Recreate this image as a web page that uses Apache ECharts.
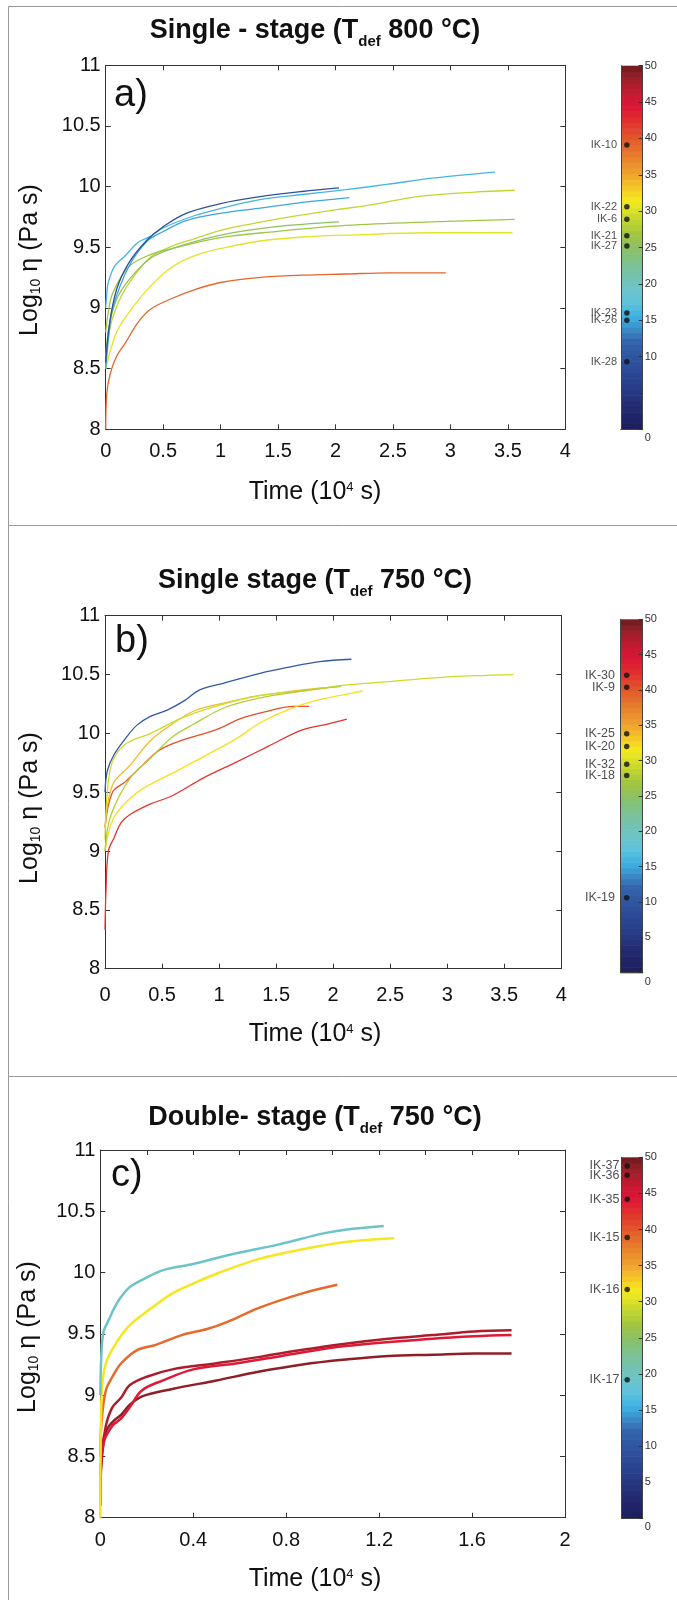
<!DOCTYPE html>
<html><head><meta charset="utf-8">
<script src="https://cdn.jsdelivr.net/npm/echarts@6/dist/echarts.min.js"></script>
<style>html,body{margin:0;padding:0;background:#fff}#c{width:677px;height:1600px}</style>
</head><body><div id="c"></div>
<script>
const FONT = '"Liberation Sans", Arial, Helvetica, sans-serif';

// ---------- Panel a: Single - stage (800 °C) ----------
const aNames = ['IK-10', 'IK-22', 'IK-6', 'IK-21', 'IK-27', 'IK-23', 'IK-26', 'IK-28'];
const aColorVals = [39.1, 30.6, 28.9, 26.6, 25.2, 16.0, 15.0, 9.3];
const aIK10 = [[0,8.0],[0.01,8.3],[0.04,8.46],[0.094,8.6],[0.17,8.71],[0.28,8.88],[0.39,8.99],[0.58,9.08],[0.77,9.15],[1.0,9.21],[1.33,9.25],[1.71,9.27],[2.09,9.28],[2.46,9.29],[2.96,9.29]];
const aIK22 = [[0,8.5],[0.094,8.8],[0.2,8.96],[0.39,9.18],[0.58,9.34],[0.77,9.43],[1.0,9.49],[1.33,9.55],[1.71,9.585],[2.09,9.6],[2.84,9.62],[3.54,9.62]];
const aIK6 = [[0,8.5],[0.03,8.8],[0.09,9.0],[0.2,9.2],[0.39,9.42],[0.58,9.51],[0.77,9.57],[1.0,9.64],[1.48,9.73],[2.01,9.81],[2.31,9.85],[2.73,9.92],[3.21,9.955],[3.56,9.97]];
const aIK21 = [[0,8.8],[0.02,8.95],[0.06,9.12],[0.2,9.34],[0.39,9.44],[0.58,9.49],[1.0,9.58],[1.48,9.63],[2.09,9.68],[2.84,9.71],[3.56,9.73]];
const aIK27 = [[0,8.6],[0.03,8.85],[0.094,9.07],[0.2,9.23],[0.39,9.41],[0.58,9.49],[1.0,9.6],[1.48,9.67],[2.03,9.71]];
const aIK23 = [[0,9.0],[0.01,9.12],[0.02,9.2],[0.075,9.34],[0.17,9.43],[0.28,9.54],[0.39,9.59],[0.5,9.66],[0.77,9.76],[1.0,9.82],[1.33,9.89],[1.71,9.935],[2.09,9.975],[2.46,10.02],[2.84,10.07],[3.39,10.12]];
const aIK26 = [[0,8.5],[0.03,8.8],[0.06,9.0],[0.2,9.34],[0.36,9.55],[0.5,9.63],[0.7,9.72],[1.0,9.78],[1.33,9.82],[1.71,9.87],[2.12,9.91]];
const aIK28 = [[0,8.55],[0.03,8.85],[0.094,9.15],[0.2,9.37],[0.36,9.56],[0.5,9.67],[0.7,9.78],[1.0,9.86],[1.33,9.915],[1.71,9.96],[2.03,9.99]];
const aSeries = [aIK10, aIK22, aIK6, aIK21, aIK27, aIK23, aIK26, aIK28];

// ---------- Panel b: Single stage (750 °C) ----------
const bNames = ['IK-30', 'IK-9', 'IK-25', 'IK-20', 'IK-32', 'IK-18', 'IK-19'];
const bColorVals = [42.1, 40.4, 33.8, 32.0, 29.5, 27.9, 10.6];
const bIK30 = [[0,8.33],[0.01,8.7],[0.03,9.0],[0.083,9.12],[0.14,9.24],[0.22,9.31],[0.4,9.4],[0.59,9.47],[0.86,9.62],[1.16,9.76],[1.43,9.89],[1.73,10.03],[1.96,10.08],[2.12,10.12]];
const bIK9 = [[0,9.2],[0.065,9.5],[0.18,9.59],[0.33,9.73],[0.48,9.86],[0.67,9.94],[0.97,10.03],[1.2,10.13],[1.43,10.19],[1.65,10.23],[1.79,10.23]];
const bIK25 = [[0,9.2],[0.065,9.56],[0.22,9.73],[0.4,9.94],[0.59,10.08],[0.78,10.19],[1.05,10.26],[1.35,10.32],[1.73,10.37],[2.07,10.4]];
const bIK20 = [[0,9.0],[0.065,9.26],[0.18,9.41],[0.33,9.53],[0.59,9.66],[0.86,9.8],[1.16,9.96],[1.36,10.09],[1.6,10.2],[1.85,10.28],[2.05,10.32],[2.26,10.36]];
const bIK32 = [[0,9.1],[0.02,9.5],[0.065,9.76],[0.18,9.91],[0.4,10.0],[0.67,10.13],[0.97,10.23],[1.35,10.32],[1.73,10.36],[2.1,10.41],[2.49,10.44],[2.86,10.47],[3.24,10.49],[3.58,10.5]];
const bIK18 = [[0,9.0],[0.05,9.3],[0.22,9.62],[0.4,9.79],[0.59,9.97],[0.78,10.08],[1.05,10.22],[1.35,10.3],[1.73,10.36],[2.07,10.4]];
const bIK19 = [[0,9.5],[0.02,9.68],[0.08,9.82],[0.19,9.97],[0.28,10.07],[0.39,10.14],[0.55,10.2],[0.7,10.28],[0.83,10.37],[1.05,10.43],[1.36,10.51],[1.6,10.56],[1.88,10.61],[2.16,10.63]];
const bSeries = [bIK30, bIK9, bIK25, bIK20, bIK32, bIK18, bIK19];

// ---------- Panel c: Double- stage (750 °C) ----------
const cNames = ['IK-37', 'IK-36', 'IK-35', 'IK-15', 'IK-16', 'IK-17'];
const cColorVals = [48.8, 47.5, 44.2, 38.9, 31.7, 19.2];
const cIK37 = [[0,8.1],[0.005,8.45],[0.024,8.7],[0.052,8.78],[0.09,8.84],[0.126,8.92],[0.18,8.99],[0.31,9.05],[0.5,9.12],[0.68,9.19],[0.87,9.25],[1.055,9.29],[1.24,9.32],[1.43,9.33],[1.61,9.34],[1.77,9.34]];
const cIK36 = [[0,8.1],[0.005,8.5],[0.024,8.75],[0.052,8.9],[0.09,8.98],[0.126,9.08],[0.2,9.15],[0.31,9.21],[0.5,9.26],[0.68,9.31],[0.87,9.37],[1.055,9.42],[1.24,9.46],[1.43,9.49],[1.61,9.52],[1.77,9.53]];
const cIK35 = [[0,8.3],[0.014,8.61],[0.052,8.75],[0.09,8.81],[0.126,8.9],[0.18,9.04],[0.27,9.12],[0.4,9.21],[0.59,9.26],[0.78,9.32],[1.055,9.4],[1.43,9.46],[1.61,9.48],[1.77,9.49]];
const cIK15 = [[0,8.5],[0.005,8.78],[0.024,9.04],[0.052,9.15],[0.09,9.26],[0.16,9.37],[0.24,9.41],[0.35,9.49],[0.46,9.54],[0.55,9.6],[0.68,9.71],[0.87,9.83],[1.02,9.9]];
const cIK16 = [[0,8.0],[0.005,8.98],[0.024,9.26],[0.07,9.43],[0.126,9.57],[0.22,9.71],[0.31,9.83],[0.4,9.91],[0.5,9.99],[0.68,10.11],[0.87,10.19],[1.055,10.25],[1.265,10.28]];
const cIK17 = [[0,9.0],[0.005,9.35],[0.014,9.52],[0.033,9.6],[0.06,9.71],[0.089,9.8],[0.126,9.88],[0.18,9.94],[0.27,10.02],[0.4,10.07],[0.59,10.16],[0.77,10.23],[0.96,10.32],[1.055,10.35],[1.22,10.38]];
const cSeries = [cIK37, cIK36, cIK35, cIK15, cIK16, cIK17];

// tick labels
const yTicks = ['8', '8.5', '9', '9.5', '10', '10.5', '11'];
const abXTicks = ['0', '0.5', '1', '1.5', '2', '2.5', '3', '3.5', '4'];
const cXTicks = ['0', '0.4', '0.8', '1.2', '1.6', '2'];
const cbTicks = ['0','5','10','15','20','25','30','35','40','45','50'];

// colour map (colour-bar scale 0..50)
const cmapStops = [[0,'#1d1d5a'],[3,'#232a70'],[6,'#283e8a'],[9,'#2d4f9c'],[12,'#3463aa'],[14,'#3b8fcc'],[15.5,'#3eb2e3'],[17.5,'#5ec3dc'],[19.5,'#6ec4c6'],[22,'#77c2a2'],[24.5,'#88c06d'],[27,'#a3c63f'],[29.5,'#cddc2b'],[31.5,'#f5ea1e'],[33,'#f5cc25'],[35,'#eea52f'],[37.5,'#e8802c'],[40,'#e2582a'],[42.5,'#e02f2e'],[44.5,'#dc1537'],[46.5,'#bf1a30'],[48.5,'#962028'],[50,'#6c1b1e']];
function hex2rgb(h){return [parseInt(h.slice(1,3),16),parseInt(h.slice(3,5),16),parseInt(h.slice(5,7),16)];}
function cmap(v){
  if (v <= cmapStops[0][0]) return cmapStops[0][1];
  for (let i = 1; i < cmapStops.length; i++) {
    if (v <= cmapStops[i][0]) {
      const [v0,c0] = cmapStops[i-1], [v1,c1] = cmapStops[i];
      const f = (v - v0) / (v1 - v0);
      const a = hex2rgb(c0), b = hex2rgb(c1);
      return 'rgb(' + a.map((x,k)=>Math.round(x + (b[k]-x)*f)).join(',') + ')';
    }
  }
  return cmapStops[cmapStops.length-1][1];
}
const cbBands = Array.from({length: 64}, (_, i) => [0, i*50/64, (i+1)*50/64]);

const panels = [
  { letter:'a)', names:aNames, cvals:aColorVals, series:aSeries, xTicks:abXTicks,
    title:'{m|Single - stage (T}{s|def}{m| 800 °C)}', titleY:31,
    grid:{left:105.7, top:65.3, width:459.6, height:364},
    cb:{left:621, top:65.7, width:21.7, height:363.6},
    xMax:4, xInt:0.5, xTopInt:0.5, xLabelMargin:12, lw:1.3,
    letterPos:[114, 96], yNamePos:[30, 260], xNamePos:[315, 492],
    ikFont:11, ikDist:7, hide5:true },
  { letter:'b)', names:bNames, cvals:bColorVals, series:bSeries, xTicks:abXTicks,
    title:'{m|Single stage (T}{s|def}{m| 750 °C)}', titleY:581,
    grid:{left:105, top:615.7, width:456.3, height:353},
    cb:{left:620.7, top:619.3, width:22, height:353.4},
    xMax:4, xInt:0.5, xTopInt:0.5, xLabelMargin:17, lw:1.3,
    letterPos:[115, 642], yNamePos:[30, 808], xNamePos:[315, 1034],
    ikFont:12.5, ikDist:9, hide5:false },
  { letter:'c)', names:cNames, cvals:cColorVals, series:cSeries, xTicks:cXTicks,
    title:'{m|Double- stage (T}{s|def}{m| 750 °C)}', titleY:1118,
    grid:{left:100.3, top:1150, width:464.7, height:367.7},
    cb:{left:621.7, top:1157.3, width:21, height:361},
    xMax:2, xInt:0.4, xTopInt:0.2, xLabelMargin:13, lw:2.5,
    letterPos:[111, 1176], yNamePos:[28, 1337], xNamePos:[315, 1579],
    ikFont:12.5, ikDist:5, hide5:false }
];

const option = { animation:false, backgroundColor:'#fff', grid:[], xAxis:[], yAxis:[], series:[], graphic:[] };
const AX = '#333';

panels.forEach((P, p) => {
  const gi = option.grid.length;
  option.grid.push({left:P.grid.left, top:P.grid.top, width:P.grid.width, height:P.grid.height, containLabel:false});
  option.grid.push({left:P.cb.left, top:P.cb.top, width:P.cb.width, height:P.cb.height, containLabel:false});
  const xi = 4*p, yi = 4*p;
  const xFmt = v => { const s = String(+v.toFixed(2)); return P.xTicks.indexOf(s) >= 0 ? s : ''; };
  const yFmt = v => { const s = String(+v.toFixed(2)); return yTicks.indexOf(s) >= 0 ? s : ''; };
  const baseX = {gridIndex:gi, type:'value', min:0, max:P.xMax, splitLine:{show:false},
    axisLine:{show:true, onZero:false, lineStyle:{color:AX, width:1}},
    axisTick:{show:true, inside:true, length:5, lineStyle:{color:AX}}};
  option.xAxis.push(Object.assign({}, baseX, {position:'bottom', interval:P.xInt,
    axisLabel:{show:true, fontSize:20, color:'#111', fontFamily:FONT, margin:P.xLabelMargin, formatter:xFmt, showMinLabel:true, showMaxLabel:true}}));
  option.xAxis.push(Object.assign({}, baseX, {position:'top', interval:P.xTopInt, axisLabel:{show:false}}));
  const cbX = {gridIndex:gi+1, type:'category', data:[''], z:5, axisLine:{show:true, lineStyle:{color:'#444'}}, axisTick:{show:false}, axisLabel:{show:false}, splitLine:{show:false}};
  option.xAxis.push(Object.assign({}, cbX, {position:'bottom'}));
  option.xAxis.push(Object.assign({}, cbX, {position:'top'}));

  const baseY = {gridIndex:gi, type:'value', min:8, max:11, interval:0.5, splitLine:{show:false},
    axisLine:{show:true, onZero:false, lineStyle:{color:AX, width:1}},
    axisTick:{show:true, inside:true, length:5, lineStyle:{color:AX}}};
  option.yAxis.push(Object.assign({}, baseY, {position:'left',
    axisLabel:{show:true, fontSize:20, color:'#111', fontFamily:FONT, margin:5, formatter:yFmt, showMinLabel:true, showMaxLabel:true}}));
  option.yAxis.push(Object.assign({}, baseY, {position:'right', axisLabel:{show:false}}));
  option.yAxis.push({gridIndex:gi+1, type:'value', min:0, max:50, position:'left', z:5, splitLine:{show:false},
    axisLine:{show:true, lineStyle:{color:'#444'}}, axisTick:{show:false}, axisLabel:{show:false}});
  option.yAxis.push({gridIndex:gi+1, type:'value', min:0, max:50, interval:5, position:'right', z:5, splitLine:{show:false},
    axisLine:{show:true, lineStyle:{color:'#444'}},
    axisTick:{show:true, inside:true, length:4, lineStyle:{color:'#333'}},
    axisLabel:{show:true, fontSize:11, color:'#333', fontFamily:FONT, margin:2, showMinLabel:true, showMaxLabel:true,
      formatter: v => { const s = String(Math.round(v)); if (s === '0') return '{z|0}'; if (P.hide5 && s === '5') return ''; return cbTicks.indexOf(s) >= 0 ? s : ''; },
      rich:{z:{fontSize:11, color:'#333', fontFamily:FONT, padding:[18,0,0,0]}}}});

  // curves
  P.series.forEach((d, k) => {
    option.series.push({type:'line', name:P.names[k], xAxisIndex:xi, yAxisIndex:yi, data:d,
      showSymbol:false, symbol:'none', smooth:0.35, z:3,
      lineStyle:{color:cmap(P.cvals[k]), width:P.lw}});
  });
  // colour bar
  option.series.push({type:'custom', xAxisIndex:xi+2, yAxisIndex:yi+3, data:cbBands, z:1,
    dimensions:['c','lo','hi'], encode:{x:0, y:[1,2]},
    renderItem:(params, api) => {
      const lo = api.value(1), hi = api.value(2);
      const p0 = api.coord([0, hi]), p1 = api.coord([0, lo]);
      const w = api.size([1, 0])[0];
      return {type:'rect', shape:{x:p0[0]-w/2, y:p0[1], width:w, height:p1[1]-p0[1]+0.6},
        style:{fill:cmap((lo+hi)/2)}};
    }});
  // sample markers
  option.series.push({type:'scatter', xAxisIndex:xi+2, yAxisIndex:yi+3, z:10,
    symbol:'circle', symbolSize:5.5, symbolOffset:[-5,0], itemStyle:{color:'#111'},
    data:P.names.map((n,k)=>({name:n, value:[0, P.cvals[k]]})),
    label:{show:true, position:'left', distance:P.ikDist, formatter:'{b}', fontSize:P.ikFont, color:'#222', fontFamily:FONT}});

  // texts
  option.graphic.push({type:'text', x:315, y:P.titleY, style:{text:P.title, align:'center', verticalAlign:'middle',
    rich:{m:{fontSize:27, fontWeight:'bold', fontFamily:FONT, fill:'#111'}, s:{fontSize:15, fontWeight:'bold', fontFamily:FONT, fill:'#111', padding:[21,0,0,0]}}}});
  option.graphic.push({type:'text', x:P.letterPos[0], y:P.letterPos[1], style:{text:P.letter, align:'left', verticalAlign:'middle', fontSize:38, fontFamily:FONT, fill:'#111'}, z:20});
  option.graphic.push({type:'text', x:P.xNamePos[0], y:P.xNamePos[1], style:{text:'{m|Time (10}{u|4}{m| s)}', align:'center', verticalAlign:'middle',
    rich:{m:{fontSize:25, fontFamily:FONT, fill:'#111'}, u:{fontSize:13, fontFamily:FONT, fill:'#111', padding:[0,0,10,0]}}}});
  option.graphic.push({type:'text', x:P.yNamePos[0], y:P.yNamePos[1], rotation:Math.PI/2, style:{text:'{m|Log}{s|10}{m| η (Pa s)}', align:'center', verticalAlign:'middle',
    rich:{m:{fontSize:25, fontFamily:FONT, fill:'#111'}, s:{fontSize:14, fontFamily:FONT, fill:'#111', padding:[12,0,0,0]}}}});
});

// frame lines
const frame = {stroke:'#9a9a9a', lineWidth:1};
option.graphic.push({type:'line', shape:{x1:8.5, y1:6.5, x2:8.5, y2:1600}, style:frame});
option.graphic.push({type:'line', shape:{x1:8.5, y1:6.5, x2:677, y2:6.5}, style:frame});
option.graphic.push({type:'line', shape:{x1:8.5, y1:525.5, x2:677, y2:525.5}, style:frame});
option.graphic.push({type:'line', shape:{x1:8.5, y1:1076.5, x2:677, y2:1076.5}, style:frame});

const chart = echarts.init(document.getElementById('c'), null, {renderer:'canvas'});
chart.setOption(option);
</script></body></html>
